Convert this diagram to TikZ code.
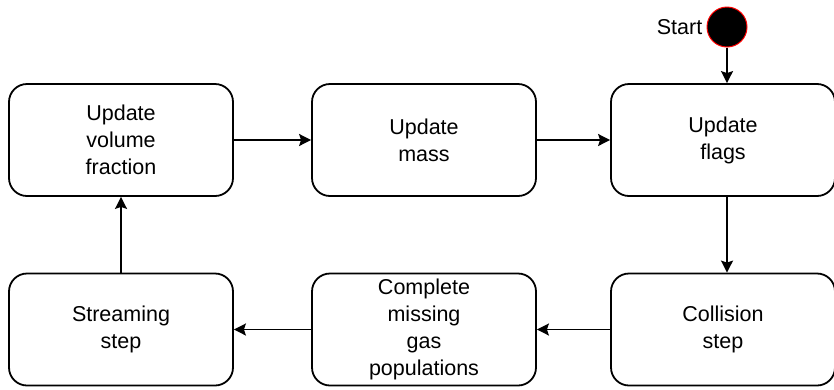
\documentclass[tikz,border=0pt]{standalone}
\usepackage{fontspec}
\setmainfont{Liberation Sans}
\usetikzlibrary{arrows.meta}
\begin{document}
\begin{tikzpicture}[x=1pt,y=-1pt,
  stepbox/.style={draw=black, line width=1.8pt, rounded corners=18pt, minimum width=224pt, minimum height=112pt, align=center, font=\fontsize{21.5}{27}\selectfont, inner sep=2pt},
  conn/.style={line width=1.8pt, -{Stealth[length=12pt,width=12pt,inset=2pt]}}]
\useasboundingbox (0,0) rectangle (834,389);
\node[stepbox] (vol) at (121,140) {Update\\volume\\fraction};
\node[stepbox] (mass) at (424,140) {Update\\mass};
\node[stepbox] (flags) at (723,140) {Update\\flags};
\node[stepbox] (coll) at (723,329.5) {Collision\\step};
\node[stepbox] (gas) at (424,329.5) {Complete\\missing\\gas\\populations};
\node[stepbox] (stream) at (121,329.5) {Streaming\\step};
\node[circle, fill=black, draw=red, line width=1pt, minimum size=40pt, inner sep=0pt] (start) at (727,27) {};
\node[anchor=east, font=\fontsize{21.5}{27}\selectfont, inner sep=4pt] (startlbl) at (start.west) {Start};
\draw[conn] (start) -- (start|-flags.north);
\draw[conn] (vol) -- (mass);
\draw[conn] (mass) -- (flags);
\draw[conn] (flags.south-|start) -- (coll.north-|start);
\draw[conn] (coll) -- (gas);
\draw[conn] (gas) -- (stream);
\draw[conn] (stream) -- (vol);
\end{tikzpicture}
\end{document}
